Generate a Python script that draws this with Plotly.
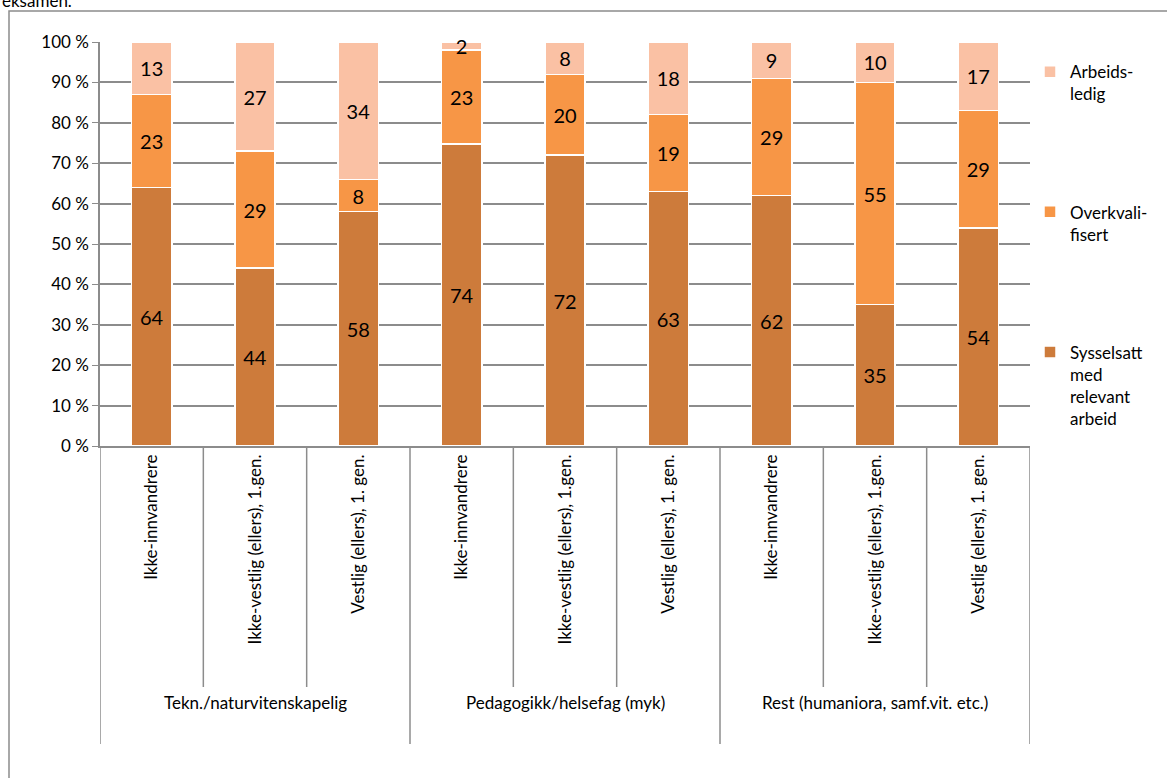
import plotly.graph_objects as go

# kategorier
groups = ['Tekn./naturvitenskapelig', 'Pedagogikk/helsefag (myk)', 'Rest (humaniora, samf.vit. etc.)']
subgroups = ['Ikke-innvandrere', 'Ikke-vestlig (ellers), 1.gen.', 'Vestlig (ellers), 1. gen.']

# verdier per kategori (3 grupper x 3 undergrupper)
sysselsatt = [64, 44, 58, 74, 72, 63, 62, 35, 54]
overkval = [23, 29, 8, 23, 20, 19, 29, 55, 29]
arbeidsledig = [13, 27, 34, 2, 8, 18, 9, 10, 17]

y_ticks = [0, 10, 20, 30, 40, 50, 60, 70, 80, 90, 100]
y_labels = [f'{v} %' for v in y_ticks]

FONT = 'Lato'
GRID = '#8c8c8c'

labels = [s for g in groups for s in subgroups]
xs = list(range(len(labels)))

series = [
    ('Sysselsatt<br>med<br>relevant<br>arbeid', sysselsatt, '#CD7B3B', 3),
    ('Overkvali-<br>fisert', overkval, '#F79646', 2),
    ('Arbeids-<br>ledig', arbeidsledig, '#FAC1A4', 1),
]

fig = go.Figure()
for i, (name, vals, col, rank) in enumerate(series):
    fig.add_trace(go.Bar(
        x=xs, y=vals, name=name, legendgroup=str(i), legendrank=rank,
        marker=dict(color=col, line=dict(color='white', width=1.5)),
        width=0.39, cliponaxis=False,
        text=vals, textposition='inside', insidetextanchor='middle',
        textangle=0, constraintext='none',
        textfont=dict(family=FONT, size=20, color='black'),
    ))

# skillelinjer under aksen
inner_len = -(687 - 446) / 404
group_len = -(744 - 446) / 404
shapes = []
for k in range(len(labels) + 1):
    b = k - 0.5
    y1 = group_len if k % len(subgroups) == 0 else inner_len
    shapes.append(dict(type='line', xref='x', yref='paper', x0=b, x1=b, y0=0, y1=y1,
                       line=dict(color=GRID, width=1.5)))
# ramme rundt diagrammet
shapes.append(dict(type='rect', xref='paper', yref='paper', x0=-91 / 930, x1=1.3, y0=-1.5, y1=(446 - 11) / 404,
                   line=dict(color='#8c8c8c', width=1.5), layer='below'))

annotations = []
for gi, g in enumerate(groups):
    annotations.append(dict(text=g, x=gi * len(subgroups) + 1, xref='x', y=-(715 - 446) / 404,
                            yref='paper', showarrow=False, font=dict(family=FONT, size=17, color='black')))
annotations.append(dict(text='eksamen.', x=-100 / 930, xref='paper', xanchor='left',
                        y=(446 - 13) / 404, yref='paper', yanchor='bottom', showarrow=False,
                        font=dict(family=FONT, size=17, color='black')))

fig.update_layout(
    width=1167, height=778,
    margin=dict(l=100, r=137, t=42, b=332),
    paper_bgcolor='white', plot_bgcolor='white',
    barmode='stack', barnorm='percent',
    font=dict(family=FONT, size=17, color='black'),
    shapes=shapes, annotations=annotations,
    legend=dict(x=1.0, xanchor='left', y=0.97, yanchor='top', valign='top',
                traceorder='grouped', tracegroupgap=93,
                font=dict(family=FONT, size=17, color='black'), itemwidth=30),
)
fig.update_xaxes(range=[-0.5, len(labels) - 0.5], tickvals=xs, ticktext=labels, tickangle=-90,
                 showgrid=False, zeroline=False, showline=True, linecolor=GRID, linewidth=1.5,
                 ticks='', tickfont=dict(family=FONT, size=17, color='black'))
fig.update_yaxes(range=[0, 100], tickvals=y_ticks, ticktext=y_labels, showgrid=True,
                 gridcolor=GRID, gridwidth=1.5, zeroline=False, showline=True, linecolor=GRID,
                 linewidth=1.5, ticks='outside', ticklen=6, tickcolor=GRID,
                 tickfont=dict(family=FONT, size=17, color='black'))

# siden skal ikke ha marg rundt figuren
fig.write_html('out.html', config={'displayModeBar': False},
               post_script="document.body.style.margin='0px';")
